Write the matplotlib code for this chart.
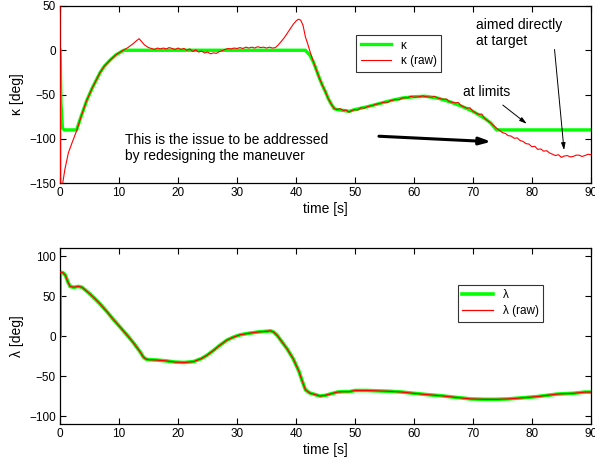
import matplotlib
matplotlib.use('Agg')
import matplotlib.pyplot as plt

plt.rcParams['font.family'] = ['Liberation Sans', 'DejaVu Sans']
plt.rcParams['font.size'] = 8.5

# ---- kappa (top) ----
kap_raw_t = [0.0, 0.1, 0.45, 0.8, 1.4, 2.0, 2.8, 3.5, 4.5, 5.5, 6.8, 7.5, 8.5, 9.5, 10.7,
             11.5, 12.3, 13.0, 13.4, 13.8, 14.3, 15.0, 15.5, 16.0, 16.5, 17.0, 17.5, 18.0,
             18.5, 19.0, 19.5, 20.0, 20.5, 21.0, 21.5, 22.0, 22.5, 23.0, 23.5, 24.0, 24.5,
             25.0, 25.5, 26.0, 26.5, 27.0, 27.5, 28.0, 28.5, 29.0, 29.5, 30.0, 30.5, 31.0,
             31.5, 32.0, 32.5, 33.0, 33.5, 34.0, 34.5, 35.0, 35.5, 36.0, 36.5, 37.0, 37.5,
             38.0, 38.5, 39.0, 39.5, 40.0, 40.4, 40.8, 41.2, 41.6, 42.0, 42.5, 43.0, 43.5,
             44.0, 44.5, 45.0, 45.5, 46.0, 46.5, 47.0, 47.5, 48.0, 48.5, 49.0, 49.5, 50.0,
             50.5, 51.0, 51.5, 52.0, 52.5, 53.0, 53.5, 54.0, 55.0, 55.5, 56.0, 57.0, 57.5,
             58.0, 59.0, 59.5, 60.0, 61.0, 61.5, 62.0, 63.0, 63.5, 64.0, 65.0, 65.5, 66.0,
             67.0, 67.5, 68.0, 69.0, 69.5, 70.0, 71.0, 71.5, 72.0, 73.0, 74.0, 75.0, 75.5,
             76.0, 76.5, 77.0, 77.5, 78.0, 78.5, 79.0, 79.5, 80.0, 80.5, 81.0, 81.5, 82.0,
             82.5, 83.0, 83.5, 84.0, 84.5, 85.0, 85.5, 86.0, 86.5, 87.0, 87.5, 88.0, 88.5,
             89.0, 89.5, 90.0]
kap_raw = [60, -170, -150, -135, -116, -105, -91, -76, -57, -42, -25, -18, -11, -5, 0,
           3, 7, 11, 13, 10, 6, 3, 2, 1, 2.5, 1.5, 2.5, 1.5,
           3, 2, 1, 2.5, 1, 2, 0, 1.5, -1.5, 0.5, -2, -1, -3,
           -2, -4, -3, -3.5, -1.5, -0.5, 1, 2, 1.5, 2.5, 2, 3, 2,
           3.5, 2.5, 3.5, 2.5, 4, 3, 3.5, 2.5, 3.5, 2.5, 3, 6, 10,
           14, 19, 24, 29, 33, 35, 34, 28, 15, 7, -4, -14, -23,
           -32, -40, -47, -55, -61, -66, -67, -66, -68, -67.5, -70, -68, -67,
           -67.5, -65, -65.5, -64, -63, -62.5, -61, -60.5, -58.5, -59, -57, -55.5, -56,
           -54, -53.5, -52, -53, -52.5, -51.5, -52.5, -53, -52, -54, -55.5, -55, -58,
           -59.5, -59, -62.5, -65.5, -65, -69, -72.5, -72, -77, -82, -88, -93, -94,
           -96.5, -97, -99.5, -99, -102, -103, -105.5, -106, -109, -108.5, -112, -111.5, -114,
           -113.5, -116, -117.5, -119, -118, -121, -119.5, -119, -120.5, -120, -118.5, -118.5, -120,
           -119, -117.5, -118]

kap_t = [0.0, 0.15, 0.4, 0.7, 2.8, 3.5, 4.5, 5.5, 6.8, 7.5, 8.5, 9.5, 10.8, 41.6, 42.4,
         43.0, 43.5, 44.0, 44.5, 45.0, 45.5, 46.0, 46.5, 47.0, 48.0, 49.0, 50.0,
         52.0, 54.0, 56.0, 58.0, 60.0, 62.0, 64.0, 66.0, 68.0, 70.0, 72.0, 73.0, 74.0, 90.0]
kap = [0, -60, -88, -90, -90, -76, -57, -42, -25, -18, -11, -5, 0, 0, -6,
       -14, -23, -32, -40, -47, -55, -61, -66, -67, -68, -69, -67,
       -64, -60.5, -57, -54, -52.5, -52, -54, -58, -63, -69, -77, -82, -90, -90]

# ---- lambda (bottom) ----
lam_t = [0.0, 0.5, 0.9, 1.3, 1.7, 2.3, 3.1, 3.7, 4.2, 5.0, 6.0, 6.8, 8.0, 9.0, 10.2, 11.5,
         12.5, 13.6, 14.1, 14.5, 15.0, 16.4, 18.0, 19.5, 21.0, 22.6, 24.0, 24.9, 26.0,
         27.0, 28.3, 29.5, 30.5, 32.0, 33.5, 35.0, 35.7, 36.2, 36.8, 37.5, 38.5, 39.5,
         40.5, 41.0, 41.6, 42.3, 43.2, 44.1, 45.0, 46.0, 47.0, 48.0, 49.0, 50.0, 52.0,
         54.0, 56.0, 58.0, 60.0, 62.0, 64.5, 67.0, 69.6, 72.0, 74.0, 76.0, 78.7, 81.0,
         84.3, 87.0, 89.0, 90.0]
lam_raw = [80, 79, 76, 68, 62, 61, 62, 61, 58, 53, 46, 40, 30, 21, 11, 0,
           -9, -20, -26, -28.5, -29.5, -30, -31, -32.5, -33, -32, -28, -24, -18,
           -12, -5, -1, 1.5, 3.5, 5, 6, 6.5, 5, 1, -6, -16, -28,
           -44, -55, -67, -71, -73, -75, -74, -72, -70, -69.5, -69.5, -68, -68,
           -68.5, -69, -70, -71.5, -73, -74.5, -76.5, -78.5, -79, -79, -78.5, -77, -75.5,
           -72.5, -71.5, -70, -70]
lam_f_t = [0.0] + lam_t
lam_f = [0.0] + lam_raw

GREEN = '#00ff00'
RED = '#ff0000'

fig = plt.figure(figsize=(5.95, 4.61), dpi=100, facecolor='white')
ax1 = fig.add_axes([0.101, 0.603, 0.892, 0.384])
ax2 = fig.add_axes([0.101, 0.080, 0.892, 0.382])


def style(ax):
    ax.tick_params(direction='in', top=True, right=True, length=4, width=0.8,
                   labelsize=8.5, pad=3)
    for s in ax.spines.values():
        s.set_linewidth(0.9)
    ax.set_xlim(0, 90)
    ax.set_xticks(range(0, 91, 10))
    ax.set_xlabel('time [s]', fontsize=10, labelpad=2)


ax1.plot(kap_t, kap, color=GREEN, lw=2.4, label='κ', zorder=2)
ax1.plot(kap_raw_t, kap_raw, color=RED, lw=0.8, label='κ (raw)', zorder=3)
ax1.set_ylim(-150, 50)
ax1.set_yticks([-150, -100, -50, 0, 50])
ax1.set_ylabel('κ [deg]', fontsize=10)
style(ax1)
leg = ax1.legend(loc='upper left', bbox_to_anchor=(0.546, 0.87), fancybox=False,
                 edgecolor='black', fontsize=8.5, handlelength=2.6, borderpad=0.4,
                 labelspacing=0.3)
leg.get_frame().set_linewidth(0.8)

ax1.text(11.0, -94, 'This is the issue to be addressed\nby redesigning the maneuver',
         fontsize=10, va='top', ha='left', linespacing=1.15)
ax1.annotate('', xy=(73.6, -103.5), xytext=(53.6, -97),
             arrowprops=dict(arrowstyle='-|>,head_length=0.8,head_width=0.25',
                             color='black', lw=2.2))
ax1.text(68.4, -47.5, 'at limits', fontsize=10, va='center', ha='left')
ax1.annotate('', xy=(79.5, -85), xytext=(74.7, -60),
             arrowprops=dict(arrowstyle='-|>,head_length=0.5,head_width=0.15',
                             color='black', lw=0.7))
ax1.text(70.5, 36, 'aimed directly\nat target', fontsize=10, va='top', ha='left',
         linespacing=1.15)
ax1.annotate('', xy=(85.5, -116), xytext=(83.8, 4),
             arrowprops=dict(arrowstyle='-|>,head_length=0.5,head_width=0.15',
                             color='black', lw=0.7))

ax2.plot(lam_f_t, lam_f, color=GREEN, lw=2.6, label='λ', zorder=2)
ax2.plot(lam_t, lam_raw, color=RED, lw=0.9, label='λ (raw)', zorder=3)
ax2.set_ylim(-110, 110)
ax2.set_yticks([-100, -50, 0, 50, 100])
ax2.set_ylabel('λ [deg]', fontsize=10)
style(ax2)
leg2 = ax2.legend(loc='upper left', bbox_to_anchor=(0.738, 0.825), fancybox=False,
                  edgecolor='black', fontsize=8.5, handlelength=2.6, borderpad=0.4,
                  labelspacing=0.3)
leg2.get_frame().set_linewidth(0.8)

fig.savefig('out.png', dpi=100)
